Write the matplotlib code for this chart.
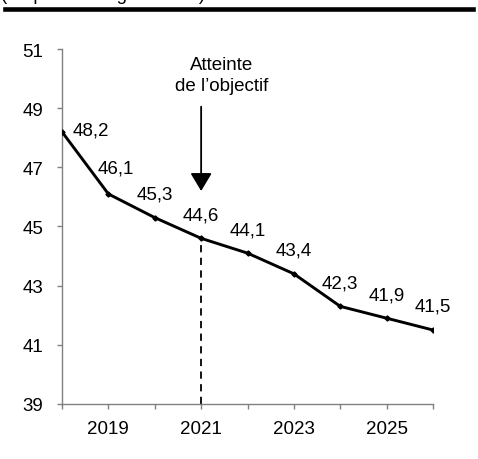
import matplotlib
matplotlib.use("Agg")
import matplotlib.pyplot as plt
from matplotlib.lines import Line2D

plt.rcParams['font.family'] = ['Liberation Sans', 'DejaVu Sans']
plt.rcParams['font.size'] = 13.5

# data
years = [2018, 2019, 2020, 2021, 2022, 2023, 2024, 2025, 2026]
values = [48.2, 46.1, 45.3, 44.6, 44.1, 43.4, 42.3, 41.9, 41.5]
labels = ['48,2', '46,1', '45,3', '44,6', '44,1', '43,4', '42,3', '41,9', '41,5']
target_year = 2021
xtick_labels = ['2019', '2021', '2023', '2025']
yticks = [39, 41, 43, 45, 47, 49, 51]

fig = plt.figure(figsize=(4.78, 4.60), dpi=100)
ax = fig.add_axes([0.1297, 0.1196, 0.7762, 0.7717])

ax.plot(years, values, color='black', lw=2.1, marker='D', ms=2.6, zorder=3)

for i, (x, y, s) in enumerate(zip(years, values, labels)):
    if i == 0:
        off, ha = (8, 1.5), 'left'
    elif i == 1:
        off, ha = (5, 18.5), 'center'
    else:
        off, ha = (0, 17), 'center'
    ax.annotate(s, (x, y), xytext=off, textcoords='offset points',
                ha=ha, va='center')

# objectif
ti = years.index(target_year)
ax.plot([target_year, target_year], [39, values[ti]], color='black',
        lw=1.3, ls=(0, (4, 3)), zorder=2)
ax.annotate('', xy=(target_year, 46.2), xytext=(target_year, 49.05),
            arrowprops=dict(arrowstyle='-|>,head_width=0.33,head_length=0.55',
                            mutation_scale=20, color='black', lw=1.3,
                            shrinkA=0, shrinkB=0))
ax.text(target_year + 0.45, 50.12, 'Atteinte\nde l\u2019objectif',
        ha='center', va='center', multialignment='center', linespacing=1.3)

ax.set_xlim(2018, 2026)
ax.set_ylim(39, 51)
ax.set_xticks(years)
ax.set_xticklabels(['' if str(y) not in xtick_labels else str(y) for y in years])
ax.set_yticks(yticks)

for side in ['top', 'right']:
    ax.spines[side].set_visible(False)
for side in ['left', 'bottom']:
    ax.spines[side].set_color('#808080')
    ax.spines[side].set_linewidth(1.0)
ax.tick_params(axis='both', colors='#808080', labelcolor='black', length=3.6, width=1.0)
ax.tick_params(axis='y', pad=10)
ax.tick_params(axis='x', pad=8)

# cut-off heading and top rule
fig.text(0.003, 1.0, '(en pourcentage du PIB)', ha='left', va='baseline')
fig.add_artist(Line2D([5 / 478, 473 / 478], [1 - 9.5 / 460] * 2,
                      transform=fig.transFigure, color='black', lw=3.3))

fig.savefig('out.png', dpi=100)
